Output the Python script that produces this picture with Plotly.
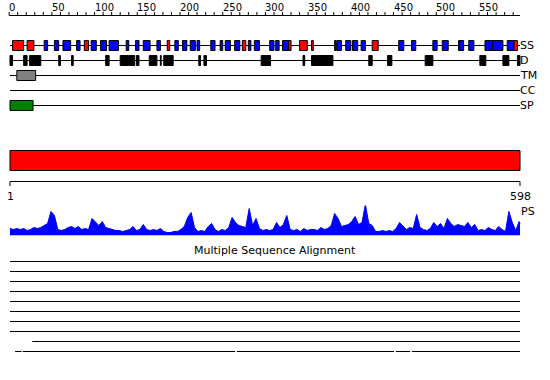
import plotly.graph_objects as go

# ---------------- data ----------------
SEQ_LEN = 598
ruler_ticks = list(range(0, 600, 10))
ruler_labels = list(range(0, 600, 50))

# secondary structure (start, end, type) H = red, E = blue
ss_start = [4, 21, 41, 53, 63, 79, 88, 96, 107, 117, 137, 148, 157, 173, 185, 194, 203, 212, 220,
            236, 247, 253, 264, 273, 280, 287, 305, 312, 320, 327, 340, 354, 381, 384, 394, 402,
            412, 425, 456, 471, 496, 507, 526, 527.4, 538, 557, 566, 583, 591]
ss_end = [17, 29, 45, 58, 72, 83, 93, 102, 114, 128, 140, 152, 165, 177, 188, 198, 208, 218, 223,
          241, 250, 259, 270, 277, 283, 293, 310, 316, 327, 330, 349, 356, 383, 389, 400, 408,
          417, 432, 462, 476, 501, 514, 527.4, 532, 544, 566, 578, 591, 595]
ss_type = ["H", "H", "E", "E", "E", "E", "H", "E", "E", "E", "E", "E", "E", "E", "H", "E", "E", "E", "E",
           "E", "E", "E", "E", "H", "E", "E", "E", "E", "E", "H", "H", "H", "E", "E", "E", "E",
           "E", "H", "E", "E", "E", "E", "H", "E", "E", "E", "E", "E", "H"]

# disorder
d_start = [1, 17, 24, 58, 73, 113, 130, 140.3, 149, 164, 177, 181, 222, 228, 295, 344, 354, 421, 443,
           487, 551, 554, 578, 595]
d_end = [4, 21, 37, 60, 75, 117, 139.7, 147, 152, 173, 178, 192, 224, 231, 306, 346, 379, 425, 448,
         496, 553, 558, 585, 598]

tm_start, tm_end = [9], [31]
cc_start, cc_end = [], []
sp_start, sp_end = [1], [28]

# PS profile (every 4 residues)
ps_pos = list(range(1, 598, 4)) + [598]
ps_val = [7, 6, 7, 6, 7, 5, 6, 8, 7, 8, 10, 12, 24, 20, 6, 5, 6, 8, 9, 7,
          9, 6, 7, 6, 17, 13, 10, 14, 8, 7, 6, 5, 5, 4, 5, 6, 9, 5, 6, 11,
          6, 5, 6, 5, 7, 4, 3, 3, 4, 4, 6, 9, 18, 23, 8, 4, 5, 4, 9, 12,
          6, 4, 6, 5, 8, 18, 13, 10, 9, 8, 27, 10, 17, 7, 5, 6, 5, 6, 13, 8,
          11, 20, 6, 5, 6, 4, 7, 5, 6, 6, 5, 8, 6, 7, 10, 22, 17, 9, 10, 11,
          14, 19, 11, 13, 31, 12, 10, 4, 4, 5, 4, 5, 4, 7, 13, 10, 6, 8, 7, 21,
          8, 6, 5, 7, 13, 9, 12, 7, 17, 12, 9, 11, 10, 9, 13, 8, 11, 5, 6, 5,
          8, 6, 5, 9, 6, 4, 24, 13, 5, 14, 12]

# multiple sequence alignment segments per sequence
msa_segments = [
    [(1, 598)], [(1, 598)], [(1, 598)], [(1, 598)], [(1, 598)],
    [(1, 598)], [(1, 598)], [(1, 598)], [(27, 598)],
    [(7, 14.5), (16, 264.5), (266.5, 450.5), (452.6, 469.4), (471.4, 598)],
]

track_names = ["SS", "D", "TM", "CC", "SP"]

# ---------------- layout helpers ----------------
W, H = 550, 380
px_per_res = 510 / 597.0
x0 = 1 - 10 / px_per_res
x1 = x0 + W / px_per_res

track_y = [45.5, 60.5, 75.5, 90.5, 105.5]
half = 5
FONT = "DejaVu Sans"

shapes = []
annotations = []


def hline(a, b, y, color="black", width=1):
    shapes.append(dict(type="line", xref="x", yref="y", x0=a, x1=b, y0=y, y1=y,
                       line=dict(color=color, width=width)))


def box(a, b, yc, fill, border="black", h=half):
    shapes.append(dict(type="rect", xref="x", yref="y", x0=a, x1=b, y0=yc - h, y1=yc + h,
                       fillcolor=fill, line=dict(color=border, width=1)))


# top ruler
hline(0, SEQ_LEN, 15.5)
for t in ruler_ticks:
    shapes.append(dict(type="line", xref="x", yref="y", x0=t, x1=t, y0=12, y1=15.5,
                       line=dict(color="black", width=1)))
for t in ruler_labels:
    annotations.append(dict(x=t, y=7, xref="x", yref="y", text=str(t), showarrow=False,
                            xanchor="left", yanchor="middle", xshift=-2,
                            font=dict(family=FONT, size=10, color="black")))

# tracks
for name, y in zip(track_names, track_y):
    hline(1, SEQ_LEN, y)
    annotations.append(dict(x=SEQ_LEN, y=y, xref="x", yref="y", text=name, showarrow=False,
                            xanchor="left", yanchor="middle", xshift=-2,
                            font=dict(family=FONT, size=11, color="black")))

for s, e, t in zip(ss_start, ss_end, ss_type):
    box(s, e, track_y[0], "#ff0000" if t == "H" else "#0000ff")
for s, e in zip(d_start, d_end):
    box(s, e, track_y[1], "black", border="black")
for s, e in zip(tm_start, tm_end):
    box(s, e, track_y[2], "#808080")
for s, e in zip(cc_start, cc_end):
    box(s, e, track_y[3], "#808080")
for s, e in zip(sp_start, sp_end):
    box(s, e, track_y[4], "#008000")

# big red domain bar
shapes.append(dict(type="rect", xref="x", yref="y", x0=1, x1=SEQ_LEN, y0=150.5, y1=170.5,
                   fillcolor="#ff0000", line=dict(color="black", width=1)))

# second ruler
hline(1, SEQ_LEN, 181.5)
for t in [1, SEQ_LEN]:
    shapes.append(dict(type="line", xref="x", yref="y", x0=t, x1=t, y0=181.5, y1=186,
                       line=dict(color="black", width=1)))
    annotations.append(dict(x=t, y=196, xref="x", yref="y", text=str(t), showarrow=False,
                            xanchor="center", yanchor="middle",
                            font=dict(family=FONT, size=11, color="black")))

annotations.append(dict(x=SEQ_LEN, y=211, xref="x", yref="y", text="PS", showarrow=False,
                        xanchor="left", yanchor="middle", xshift=-1,
                        font=dict(family=FONT, size=11, color="black")))

# MSA
annotations.append(dict(x=0.5, y=250, xref="paper", yref="y", text="Multiple Sequence Alignment",
                        showarrow=False, xanchor="center", yanchor="middle",
                        font=dict(family=FONT, size=11, color="black")))
for i, segs in enumerate(msa_segments):
    y = 261.5 + 10 * i
    for a, b in segs:
        hline(a, b, y)

fig = go.Figure()
fig.add_trace(go.Scatter(x=ps_pos, y=ps_val, mode="lines", fill="tozeroy",
                         fillcolor="#0000ff", line=dict(color="#0000ff", width=1),
                         xaxis="x", yaxis="y2", hoverinfo="skip"))

fig.update_layout(
    width=W, height=H, margin=dict(l=0, r=0, t=0, b=0),
    paper_bgcolor="white", plot_bgcolor="white", showlegend=False,
    xaxis=dict(range=[x0, x1], visible=False, fixedrange=True),
    yaxis=dict(range=[H, 0], visible=False, fixedrange=True),
    yaxis2=dict(range=[0, 30], domain=[(H - 235.5) / H, (H - 205.5) / H], visible=False,
                anchor="x", fixedrange=True),
    shapes=shapes, annotations=annotations,
)

fig.write_html("out.html")
